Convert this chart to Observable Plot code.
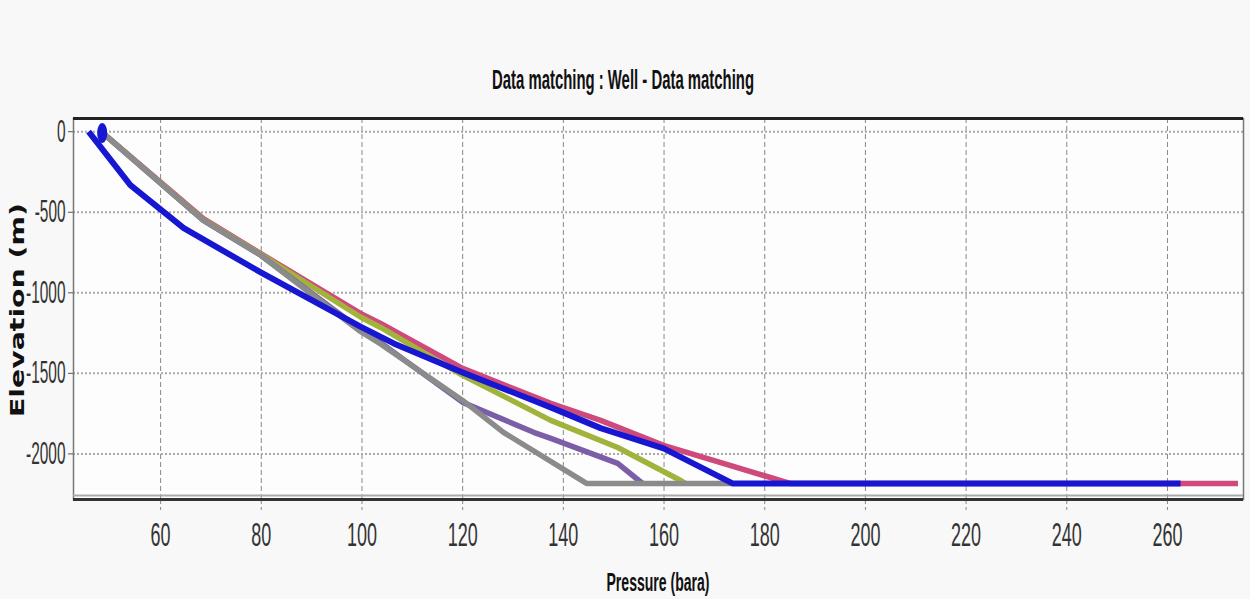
<!DOCTYPE html>
<html>
<head>
<meta charset="utf-8">
<script src="https://cdn.jsdelivr.net/npm/d3@7"></script>
<script src="https://cdn.jsdelivr.net/npm/@observablehq/plot@0.6"></script>
<style>
  html, body { margin: 0; padding: 0; background: #f8f8f8; }
  #chart { width: 1250px; height: 599px; }
</style>
</head>
<body>
<div id="chart"></div>
<script>
// ---- Axis ticks ----
const xTicks = [60, 80, 100, 120, 140, 160, 180, 200, 220, 240, 260];
const yTicks = [0, -500, -1000, -1500, -2000];
const xDomain = [42.7, 275.1];
const yDomain = [-2283, 82];

// ---- Series (pressure in bara, elevation in m) ----
const redPressure    = [48.2, 68.5, 79.9, 99.7, 103.7, 120.0, 137.5, 147.4, 159.9, 179.8, 185.0, 274.0];
const redElevation   = [0, -540, -757, -1128, -1190, -1469, -1686, -1792, -1947, -2134, -2183, -2183];

const greenPressure  = [48.2, 68.5, 79.9, 99.7, 103.7, 120.0, 137.5, 150.8, 163.3, 164.2];
const greenElevation = [0, -545, -762, -1150, -1215, -1512, -1792, -1960, -2165, -2183];

const purplePressure  = [48.2, 68.5, 79.9, 99.7, 103.7, 120.0, 134.1, 137.5, 150.8, 155.0, 155.8];
const purpleElevation = [0, -550, -767, -1228, -1310, -1680, -1866, -1904, -2059, -2165, -2183];

const grayPressure   = [48.2, 68.5, 79.9, 99.7, 103.7, 120.0, 128.1, 144.6, 173.6];
const grayElevation  = [0, -550, -767, -1240, -1318, -1668, -1866, -2183, -2183];

const bluePressure   = [45.7, 54.0, 64.6, 79.9, 99.7, 106.3, 120.0, 137.5, 147.4, 159.9, 173.6, 262.6];
const blueElevation  = [0, -332, -599, -873, -1210, -1314, -1494, -1711, -1840, -1966, -2183, -2183];

const measuredPressure  = [48.4];
const measuredElevation = [-8];

const seriesNames  = ["red", "green", "purple", "gray", "blue"];
const seriesColors = ["#cf4a7c", "#a2b33c", "#7b5ea7", "#8b8b8b", "#1717d2"];
const seriesWidths = [5.5, 5.5, 5.5, 5.5, 6];

const seriesData = {
  red:    redPressure.map((p, i) => ({p, e: redElevation[i]})),
  green:  greenPressure.map((p, i) => ({p, e: greenElevation[i]})),
  purple: purplePressure.map((p, i) => ({p, e: purpleElevation[i]})),
  gray:   grayPressure.map((p, i) => ({p, e: grayElevation[i]})),
  blue:   bluePressure.map((p, i) => ({p, e: blueElevation[i]}))
};
const measured = measuredPressure.map((p, i) => ({p, e: measuredElevation[i]}));

// ellipse symbol for measured point
const ellipse = {
  draw(ctx) {
    const rx = 5, ry = 10, k = 0.5523;
    ctx.moveTo(rx, 0);
    ctx.bezierCurveTo(rx, ry * k, rx * k, ry, 0, ry);
    ctx.bezierCurveTo(-rx * k, ry, -rx, ry * k, -rx, 0);
    ctx.bezierCurveTo(-rx, -ry * k, -rx * k, -ry, 0, -ry);
    ctx.bezierCurveTo(rx * k, -ry, rx, -ry * k, rx, 0);
    ctx.closePath();
  }
};

const lineMarks = seriesNames.map((name, i) =>
  Plot.line(seriesData[name], {
    x: "p", y: "e", stroke: seriesColors[i], strokeWidth: seriesWidths[i],
    strokeLinejoin: "round", strokeLinecap: "butt", curve: "linear"
  })
);

const plot = Plot.plot({
  width: 1250,
  height: 599,
  marginLeft: 73,
  marginRight: 7,
  marginTop: 118,
  marginBottom: 100,
  style: { background: "transparent", fontFamily: "'Liberation Sans', Arial, sans-serif", overflow: "visible" },
  x: { domain: xDomain },
  y: { domain: yDomain },
  marks: [
    Plot.frame({ fill: "#fdfdfd", stroke: null }),
    Plot.gridX(xTicks, { stroke: "#888", strokeOpacity: 1, strokeWidth: 1, strokeDasharray: "5,3" }),
    Plot.gridY(yTicks, { stroke: "#a8a8a8", strokeOpacity: 1, strokeWidth: 2, strokeDasharray: "2,2" }),
    Plot.axisX(xTicks, {
      tickSize: 11, tickPadding: 12, stroke: "#888", strokeDasharray: "5,3",
      fontSize: 33, label: null, color: "#333", tickFormat: d => String(d)
    }),
    Plot.axisY(yTicks, {
      tickSize: 5, tickPadding: 3, stroke: "#555",
      fontSize: 31, label: null, color: "#333", tickFormat: d => String(d)
    }),
    ...lineMarks,
    Plot.dot(measured, { x: "p", y: "e", symbol: ellipse, fill: "#1717d2", stroke: "none" }),
    Plot.frame({ stroke: "#777", strokeWidth: 1.5 }),
    Plot.ruleY([yDomain[1]], { stroke: "#222", strokeWidth: 3 }),
    Plot.ruleY([yDomain[0]], { stroke: "#aaa", strokeWidth: 2, dy: -4 }),
    Plot.ruleY([yDomain[0]], { stroke: "#333", strokeWidth: 3 })
  ]
});

document.getElementById("chart").appendChild(plot);
const svg = d3.select(plot);

// squeeze tick labels to a condensed look
svg.selectAll('g[aria-label="x-axis tick label"] text').each(function () {
  const t = this.textContent;
  d3.select(this).attr("textLength", t.length * 10).attr("lengthAdjust", "spacingAndGlyphs");
});
svg.selectAll('g[aria-label="y-axis tick label"] text').each(function () {
  const t = this.textContent;
  const digits = t.replace("-", "").length;
  const w = digits * 8.6 + (t.startsWith("-") ? 5 : 0);
  d3.select(this).attr("textLength", w).attr("lengthAdjust", "spacingAndGlyphs");
});

// title
svg.append("text")
  .attr("x", 623).attr("y", 89)
  .attr("text-anchor", "middle")
  .attr("font-family", "'Liberation Sans Narrow', 'Liberation Sans', Arial, sans-serif")
  .attr("font-weight", "bold").attr("font-size", 28).attr("fill", "#111")
  .attr("textLength", 262).attr("lengthAdjust", "spacingAndGlyphs")
  .text("Data matching : Well - Data matching");

// x label
svg.append("text")
  .attr("x", 658).attr("y", 591)
  .attr("text-anchor", "middle")
  .attr("font-family", "'Liberation Sans Narrow', 'Liberation Sans', Arial, sans-serif")
  .attr("font-weight", "bold").attr("font-size", 25).attr("fill", "#111")
  .attr("textLength", 103).attr("lengthAdjust", "spacingAndGlyphs")
  .text("Pressure (bara)");

// y label
svg.append("text")
  .attr("transform", "translate(24,310) rotate(-90)")
  .attr("text-anchor", "middle")
  .attr("font-family", "'DejaVu Sans', Verdana, sans-serif")
  .attr("font-weight", "bold").attr("font-size", 19).attr("fill", "#111")
  .attr("textLength", 214).attr("lengthAdjust", "spacingAndGlyphs")
  .text("Elevation (m)");
</script>
</body>
</html>
